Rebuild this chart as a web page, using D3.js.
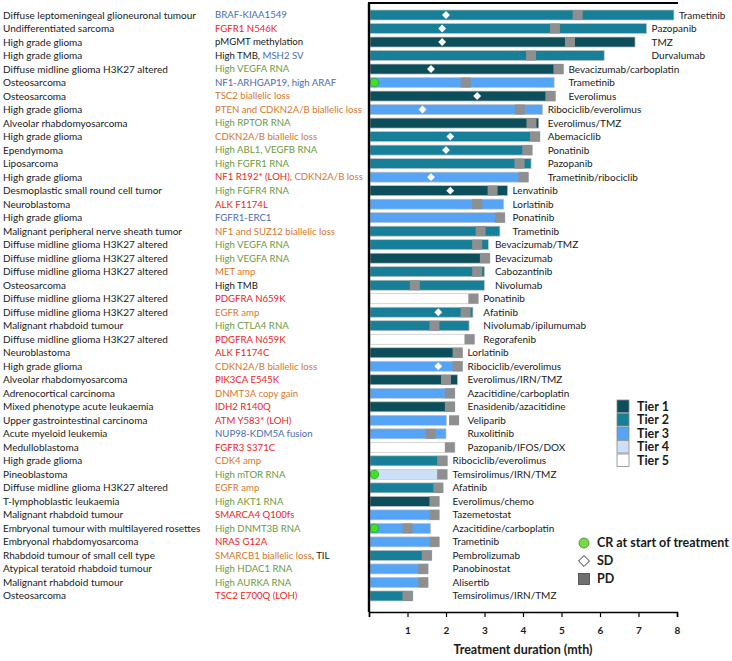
<!DOCTYPE html>
<html><head><meta charset="utf-8">
<script src="https://cdn.jsdelivr.net/npm/d3@7"></script>
<style>body{margin:0;background:#fff}svg{display:block}text{font-family:Lato,"Open Sans",sans-serif}</style>
</head><body><svg id="c" width="732" height="661"></svg>
<script>
const diagnoses = ["Diffuse leptomeningeal glioneuronal tumour","Undifferentiated sarcoma","High grade glioma","High grade glioma","Diffuse midline glioma H3K27 altered","Osteosarcoma","Osteosarcoma","High grade glioma","Alveolar rhabdomyosarcoma","High grade glioma","Ependymoma","Liposarcoma","High grade glioma","Desmoplastic small round cell tumor","Neuroblastoma","High grade glioma","Malignant peripheral nerve sheath tumor","Diffuse midline glioma H3K27 altered","Diffuse midline glioma H3K27 altered","Diffuse midline glioma H3K27 altered","Osteosarcoma","Diffuse midline glioma H3K27 altered","Diffuse midline glioma H3K27 altered","Malignant rhabdoid tumour","Diffuse midline glioma H3K27 altered","Neuroblastoma","High grade glioma","Alveolar rhabdomyosarcoma","Adrenocortical carcinoma","Mixed phenotype acute leukaemia","Upper gastrointestinal carcinoma","Acute myeloid leukemia","Medulloblastoma","High grade glioma","Pineoblastoma","Diffuse midline glioma H3K27 altered","T-lymphoblastic leukaemia","Malignant rhabdoid tumour","Embryonal tumour with multilayered rosettes","Embryonal rhabdomyosarcoma","Rhabdoid tumour of small cell type","Atypical teratoid rhabdoid tumour","Malignant rhabdoid tumour","Osteosarcoma"];
// alteration pieces: [text, type]  F=fusion/SV, M=mutation, C=copy number, R=RNA expression, O=other
const alterations = [
 [["BRAF-KIAA1549","F"]],[["FGFR1 N546K","M"]],[["pMGMT methylation","O"]],[["High TMB, ","O"],["MSH2 SV","F"]],
 [["High VEGFA RNA","R"]],[["NF1-ARHGAP19, high ARAF","F"]],[["TSC2 biallelic loss","C"]],[["PTEN and CDKN2A/B biallelic loss","C"]],
 [["High RPTOR RNA","R"]],[["CDKN2A/B biallelic loss","C"]],[["High ABL1, VEGFB RNA","R"]],[["High FGFR1 RNA","R"]],
 [["NF1 R192* (LOH), ","M"],["CDKN2A/B loss","C"]],[["High FGFR4 RNA","R"]],[["ALK F1174L","M"]],[["FGFR1-ERC1","F"]],
 [["NF1 and SUZ12 biallelic loss","C"]],[["High VEGFA RNA","R"]],[["High VEGFA RNA","R"]],[["MET amp","C"]],
 [["High TMB","O"]],[["PDGFRA N659K","M"]],[["EGFR amp","C"]],[["High CTLA4 RNA","R"]],
 [["PDGFRA N659K","M"]],[["ALK F1174C","M"]],[["CDKN2A/B biallelic loss","C"]],[["PIK3CA E545K","M"]],
 [["DNMT3A copy gain","C"]],[["IDH2 R140Q","M"]],[["ATM Y583* (LOH)","M"]],[["NUP98-KDM5A fusion","F"]],
 [["FGFR3 S371C","M"]],[["CDK4 amp","C"]],[["High mTOR RNA","R"]],[["EGFR amp","C"]],
 [["High AKT1 RNA","R"]],[["SMARCA4 Q100fs","M"]],[["High DNMT3B RNA","R"]],[["NRAS G12A","M"]],
 [["SMARCB1 biallelic loss","C"],[", TIL","O"]],[["High HDAC1 RNA","R"]],[["High AURKA RNA","R"]],[["TSC2 E700Q (LOH)","M"]]
];
const treatments = ["Trametinib","Pazopanib","TMZ","Durvalumab","Bevacizumab/carboplatin","Trametinib","Everolimus","Ribociclib/everolimus","Everolimus/TMZ","Abemaciclib","Ponatinib","Pazopanib","Trametinib/ribociclib","Lenvatinib","Lorlatinib","Ponatinib","Trametinib","Bevacizumab/TMZ","Bevacizumab","Cabozantinib","Nivolumab","Ponatinib","Afatinib","Nivolumab/ipilumumab","Regorafenib","Lorlatinib","Ribociclib/everolimus","Everolimus/IRN/TMZ","Azacitidine/carboplatin","Enasidenib/azacitidine","Veliparib","Ruxolitinib","Pazopanib/IFOS/DOX","Ribociclib/everolimus","Temsirolimus/IRN/TMZ","Afatinib","Everolimus/chemo","Tazemetostat","Azacitidine/carboplatin","Trametinib","Pembrolizumab","Panobinostat","Alisertib","Temsirolimus/IRN/TMZ"];
const tiers = [2,2,1,2,1,3,1,3,1,2,2,2,3,1,3,3,2,2,1,2,2,5,2,2,5,1,3,1,3,1,3,3,5,2,4,2,1,3,3,3,2,3,3,2];
const durations = [7.92,7.21,6.91,6.11,5.05,4.81,4.84,4.51,4.41,4.44,4.24,4.21,4.14,3.60,3.50,3.53,3.40,3.10,3.14,3.00,3.00,2.84,2.70,2.60,2.74,2.43,2.43,2.30,2.23,2.23,2.01,2.00,2.23,2.04,2.04,1.92,1.82,1.82,1.60,1.82,1.63,1.53,1.53,1.14];
const pdTimes = [5.42,4.83,5.22,4.21,4.92,2.51,4.71,3.92,4.22,4.31,4.11,3.91,4.01,3.21,2.81,3.40,2.90,2.81,3.01,2.81,1.19,2.71,2.51,1.70,2.61,2.30,2.30,2.00,2.10,2.10,2.21,1.60,2.10,1.90,1.90,1.80,1.70,1.70,1.00,1.70,1.50,1.41,1.41,1.00];
const sdTimes = [2.0,1.9,1.9,null,1.61,null,2.81,1.39,null,2.11,2.0,null,1.61,2.11,null,null,null,null,null,null,null,null,1.80,null,null,null,1.80,null,null,null,null,null,null,null,null,null,null,null,null,null,null,null,null,null];
const crTimes = [null,null,null,null,null,0.14,null,null,null,null,null,null,null,null,null,null,null,null,null,null,null,null,null,null,null,null,null,null,null,null,null,null,null,null,0.14,null,null,null,0.14,null,null,null,null,null];
const labelGroupStarts = [0,1,4,7,13,17,21,25,33];
const xTicks = [0,1,2,3,4,5,6,7,8];
const tierNames = ["Tier 1","Tier 2","Tier 3","Tier 4","Tier 5"];
const responseNames = ["CR at start of treatment","SD","PD"];

const tierColor = {1:"#0c4e59",2:"#177f98",3:"#56a4f6",4:"#cbe0f6",5:"#ffffff"};
const textColor = {F:"#4a6db3",M:"#ee2424",C:"#d4772e",R:"#6b9a43",O:"#1a1a1a"};

const svg = d3.select("#c");
const n = diagnoses.length;
const x = d3.scaleLinear().domain([0,8]).range([369,677]);
const y = d3.scalePoint().domain(d3.range(n)).range([8.25,602.7]).padding(0.5);
const bh = 10, pw = 10;

// left labels
svg.append("g").selectAll("text").data(diagnoses).join("text")
  .attr("x",3).attr("y",(d,i)=>y(i)).attr("dy","0.35em")
  .attr("font-size",10).attr("fill","#1a1a1a").text(d=>d);
const alt = svg.append("g").selectAll("text").data(alterations).join("text")
  .attr("x",215).attr("y",(d,i)=>y(i)).attr("dy","0.35em").attr("font-size",9.6);
alt.selectAll("tspan").data(d=>d).join("tspan").attr("fill",d=>textColor[d[1]]).text(d=>d[0]);

// bars
const rows = d3.range(n);
svg.append("g").selectAll("rect").data(rows).join("rect")
  .attr("x",x(0)+1).attr("y",i=>y(i)-bh/2).attr("width",i=>x(durations[i])-x(0)-1).attr("height",bh)
  .attr("fill",i=>tierColor[tiers[i]]).attr("stroke","#c4c4c4").attr("stroke-width",0.7);
svg.append("g").selectAll("rect").data(rows).join("rect")
  .attr("x",i=>x(pdTimes[i])-pw/2).attr("y",i=>y(i)-bh/2).attr("width",pw).attr("height",bh)
  .attr("fill","#8f8f8f");
const diamond = d3.symbol().type(d3.symbolDiamond2).size(40);
svg.append("g").selectAll("path").data(rows.filter(i=>sdTimes[i]!=null)).join("path")
  .attr("transform",i=>`translate(${x(sdTimes[i])},${y(i)})`).attr("d",diamond).attr("fill","#fff");
svg.append("g").selectAll("circle").data(rows.filter(i=>crTimes[i]!=null)).join("circle")
  .attr("cx",i=>x(crTimes[i])).attr("cy",i=>y(i)).attr("r",4.3).attr("fill","#3fe026").attr("stroke","#2a9a1a").attr("stroke-width",0.6);

// treatment labels (aligned per group)
const groupOf = rows.map(i=>d3.bisectRight(labelGroupStarts,i)-1);
const groupEnd = {};
rows.forEach(i=>{const e=Math.max(durations[i],pdTimes[i]+0.13);groupEnd[groupOf[i]]=Math.max(groupEnd[groupOf[i]]||0,e);});
svg.append("g").selectAll("text").data(treatments).join("text")
  .attr("x",(d,i)=>x(groupEnd[groupOf[i]])+5).attr("y",(d,i)=>y(i)).attr("dy","0.35em")
  .attr("font-size",10).attr("fill","#1a1a1a").text(d=>d);

// axes
const ax = svg.append("g").attr("transform","translate(0,612)")
  .call(d3.axisBottom(x).tickValues(xTicks).tickSize(5).tickFormat(d=>d===0?"":d));
ax.select(".domain").attr("stroke","#000").attr("stroke-width",1.6);
ax.selectAll(".tick line").attr("stroke","#000").attr("stroke-width",1.2);
ax.selectAll(".tick text").attr("y",15).attr("font-size",10).attr("font-weight","bold").attr("fill","#1a1a1a").style("font-family","Lato");
svg.append("line").attr("x1",x(0)).attr("x2",x(0)).attr("y1",3).attr("y2",612).attr("stroke","#000").attr("stroke-width",2.4);
svg.append("line").attr("x1",x(0)-1).attr("x2",x(8)+1).attr("y1",3).attr("y2",3).attr("stroke","#000").attr("stroke-width",2);
svg.append("text").attr("x",(x(0)+x(8))/2).attr("y",654).attr("text-anchor","middle")
  .attr("font-size",12.5).attr("font-weight","bold").attr("fill","#1a1a1a").text("Treatment duration (mth)");

// tier legend
const lg = svg.append("g").selectAll("g").data(tierNames).join("g")
  .attr("transform",(d,i)=>`translate(617,${400+i*13.5})`);
lg.append("rect").attr("width",12).attr("height",12.5).attr("fill",(d,i)=>tierColor[i+1]).attr("stroke","#888").attr("stroke-width",0.8);
lg.append("text").attr("x",20).attr("y",6.5).attr("dy","0.35em").attr("font-size",12.5).attr("font-weight","bold").attr("fill","#1a1a1a").text(d=>d);

// response legend
const rg = svg.append("g").selectAll("g").data(responseNames).join("g")
  .attr("transform",(d,i)=>`translate(584,${543+i*18})`);
rg.each(function(d,i){
  const g=d3.select(this);
  if(i===0) g.append("circle").attr("r",5).attr("fill","#7cd84a").attr("stroke","#3a8a20").attr("stroke-width",0.8);
  else if(i===1) g.append("path").attr("d",d3.symbol().type(d3.symbolDiamond2).size(75)).attr("fill","#fff").attr("stroke","#333").attr("stroke-width",1);
  else g.append("rect").attr("x",-5.5).attr("y",-5.5).attr("width",11).attr("height",11).attr("fill","#707070").attr("stroke","#444").attr("stroke-width",0.8);
  g.append("text").attr("x",13).attr("dy","0.35em").attr("font-size",12.5).attr("font-weight","bold").attr("fill","#1a1a1a").text(d);
});
</script></body></html>
